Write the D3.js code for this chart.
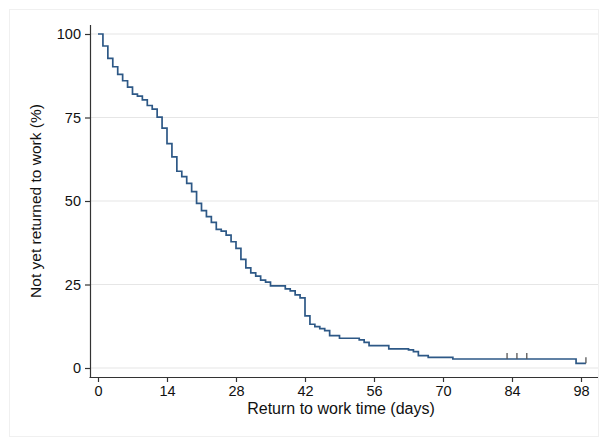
<!DOCTYPE html>
<html>
<head>
<meta charset="utf-8">
<script src="https://cdn.jsdelivr.net/npm/d3@7"></script>
<style>
  body { margin: 0; background: #fff; }
  svg { display: block; font-family: "Liberation Sans", Arial, Helvetica, sans-serif; }
</style>
</head>
<body>
<svg id="chart" width="608" height="446"></svg>
<script>
// Kaplan-Meier step points: day of drop and survival (%) after it
var stepDays = [0, 1, 2, 3, 4, 5, 6, 7, 8, 9, 10, 11, 12, 13, 14, 15, 16, 17, 18, 19, 20,
  21, 22, 23, 24, 25, 26, 27, 28, 29, 30, 31, 32, 33, 34, 35, 38, 39, 40, 41, 42, 43,
  44, 45, 46, 47, 49, 53, 54, 55, 59, 63, 64, 65, 67, 72, 97];
var stepSurv = [100, 96.4, 92.7, 90.2, 87.9, 86.0, 84.1, 82.0, 81.4, 80.3, 78.6, 77.5, 75.1,
  71.8, 67.2, 63.2, 58.9, 57.3, 55.3, 52.8, 49.3, 47.1, 45.3, 43.6, 41.5, 41.0, 39.8, 37.8,
  35.8, 32.5, 30.0, 28.5, 27.5, 26.3, 25.7, 24.6, 23.7, 23.1, 21.9, 21.0, 15.6, 13.1, 12.4,
  11.8, 11.2, 9.7, 8.9, 8.4, 7.7, 6.7, 5.7, 5.4, 4.9, 3.7, 3.2, 2.7, 1.4];
var endDay = 99;
var censorDays = [83, 85, 87, 99];

var xTicks = [0, 14, 28, 42, 56, 70, 84, 98];
var yTicks = [0, 25, 50, 75, 100];

var svg = d3.select("#chart");

var x = d3.scaleLinear().domain([0, 98]).range([98, 581]);
var y = d3.scaleLinear().domain([0, 100]).range([368, 34]);

// outer frame
svg.append("rect")
  .attr("x", 9.5).attr("y", 9.5)
  .attr("width", 589).attr("height", 427)
  .attr("fill", "none").attr("stroke", "#f0f0f0");

// gridlines
svg.append("g")
  .selectAll("line")
  .data(yTicks)
  .enter().append("line")
  .attr("x1", 91).attr("x2", 598)
  .attr("y1", function(d) { return y(d); })
  .attr("y2", function(d) { return y(d); })
  .attr("stroke", "#e6e6e6").attr("stroke-width", 1.2);

// axes
var yAxis = svg.append("g")
  .attr("transform", "translate(90,0)")
  .call(d3.axisLeft(y).tickValues(yTicks).tickSize(5).tickPadding(4));
var xAxis = svg.append("g")
  .attr("transform", "translate(0,377)")
  .call(d3.axisBottom(x).tickValues(xTicks).tickSize(5).tickPadding(4));

yAxis.select(".domain").attr("d", "M0.5,25V377.5");
xAxis.select(".domain").attr("d", "M89.5,0.5H598");
[yAxis, xAxis].forEach(function(a) {
  a.selectAll("path, line").attr("stroke", "#333").attr("stroke-width", 1.2);
  a.selectAll("text").attr("fill", "#111").style("font-size", "14.5px")
    .style("font-family", "'Liberation Sans', Arial, Helvetica, sans-serif");
});

// survival curve
var pts = stepDays.map(function(d, i) { return [d, stepSurv[i]]; });
pts.push([endDay, stepSurv[stepSurv.length - 1]]);

var line = d3.line()
  .x(function(d) { return x(d[0]); })
  .y(function(d) { return y(d[1]); })
  .curve(d3.curveStepAfter);

svg.append("path")
  .datum(pts)
  .attr("d", line)
  .attr("fill", "none")
  .attr("stroke", "#2d5886")
  .attr("stroke-width", 1.7);

// censor marks
function survAt(t) {
  var s = 100;
  for (var i = 0; i < stepDays.length; i++) if (stepDays[i] <= t) s = stepSurv[i];
  return s;
}
svg.append("g")
  .selectAll("line")
  .data(censorDays)
  .enter().append("line")
  .attr("x1", function(d) { return x(d); })
  .attr("x2", function(d) { return x(d); })
  .attr("y1", function(d) { return y(survAt(d)); })
  .attr("y2", function(d) { return y(survAt(d)) - 6; })
  .attr("stroke", "#555").attr("stroke-width", 1.3);

// titles
svg.append("text")
  .attr("x", 341).attr("y", 414)
  .attr("text-anchor", "middle")
  .style("font-size", "16px").attr("fill", "#111")
  .text("Return to work time (days)");

svg.append("text")
  .attr("transform", "translate(41,201) rotate(-90)")
  .attr("text-anchor", "middle")
  .style("font-size", "15.5px").attr("fill", "#111")
  .text("Not yet returned to work (%)");
</script>
</body>
</html>
